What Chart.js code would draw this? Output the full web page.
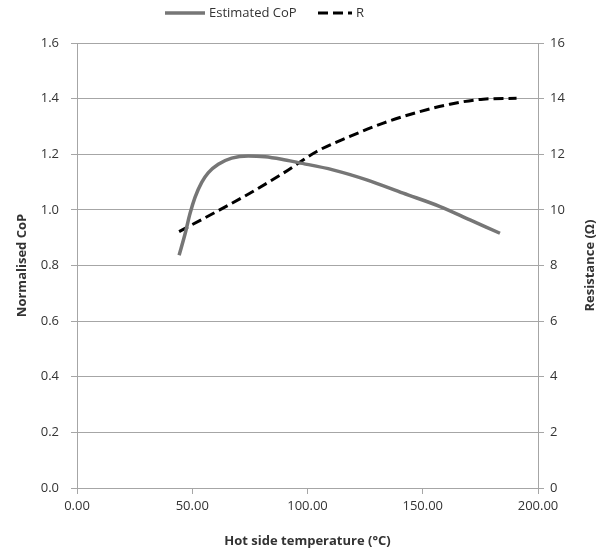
<!DOCTYPE html>
<html>
<head>
<meta charset="utf-8">
<script src="https://cdn.jsdelivr.net/npm/chart.js@4"></script>
<style>
  html, body { margin: 0; padding: 0; background: #fff; }
  #wrap { width: 611px; height: 553px; }
</style>
</head>
<body>
<div id="wrap"><canvas id="chart" width="611" height="553"></canvas></div>
<script>
// Estimated CoP (left axis) vs hot side temperature
const copTemps = [44.3, 46.9, 49, 51.2, 54.1, 57, 61.3, 67.1, 74.3, 81.6, 88.8, 96, 111, 125.7, 141.5, 157.5, 170.5, 183.5];
const copValues = [0.837, 0.914, 0.986, 1.045, 1.099, 1.134, 1.164, 1.186, 1.194, 1.191, 1.182, 1.17, 1.144, 1.108, 1.06, 1.012, 0.964, 0.916];
// Resistance R (right axis)
const rTemps = [44.3, 60.6, 75, 89.5, 104, 118.4, 132.9, 147.3, 161.8, 176.2, 190.7];
const rValues = [9.22, 9.94, 10.6, 11.32, 12.1, 12.64, 13.12, 13.5, 13.8, 13.98, 14.01];

const xTicks = [0, 50, 100, 150, 200];

const tickFont = { family: 'Open Sans', size: 13 };
const titleFont = { family: 'Open Sans', size: 13, weight: 'bold' };
const textColor = '#333';

const pairs = (xs, ys) => xs.map((x, i) => ({ x: x, y: ys[i] }));

// legend and right-hand title (reads bottom-to-top) drawn by hand
const extras = {
  id: 'extras',
  afterDraw(chart) {
    const ctx = chart.ctx;
    const s = chart.scales.y1;
    ctx.save();
    ctx.font = '13px "Open Sans"';
    ctx.fillStyle = textColor;
    ctx.textBaseline = 'middle';
    ctx.textAlign = 'left';
    const ly = 13;
    chart.data.datasets.forEach((ds, i) => {
      const x0 = i === 0 ? 165 : 318;
      const x1 = i === 0 ? 205 : 352;
      ctx.beginPath();
      ctx.setLineDash(ds.borderDash || []);
      ctx.lineWidth = ds.borderWidth;
      ctx.strokeStyle = ds.borderColor;
      ctx.moveTo(x0, ly);
      ctx.lineTo(x1, ly);
      ctx.stroke();
      ctx.setLineDash([]);
      ctx.fillText(ds.label, x1 + 4, ly);
    });
    ctx.translate(s.right - 21, (chart.chartArea.top + chart.chartArea.bottom) / 2);
    ctx.rotate(-Math.PI / 2);
    ctx.font = 'bold 13px "Open Sans"';
    ctx.textAlign = 'center';
    ctx.fillText('Resistance (Ω)', 0, 0);
    ctx.restore();
  }
};

new Chart(document.getElementById('chart'), {
  type: 'line',
  data: {
    datasets: [
      {
        label: 'Estimated CoP',
        data: pairs(copTemps, copValues),
        yAxisID: 'y',
        borderColor: '#767676',
        backgroundColor: '#767676',
        borderWidth: 3.5,
        pointRadius: 0,
        cubicInterpolationMode: 'monotone'
      },
      {
        label: 'R',
        data: pairs(rTemps, rValues),
        yAxisID: 'y1',
        borderColor: '#000',
        backgroundColor: '#000',
        borderWidth: 3,
        borderDash: [10, 5],
        pointRadius: 0,
        cubicInterpolationMode: 'monotone'
      }
    ]
  },
  options: {
    responsive: false,
    animation: false,
    layout: { padding: { top: 43, left: 0, right: 0, bottom: 0 } },
    plugins: {
      legend: { display: false },
      tooltip: { enabled: false }
    },
    scales: {
      x: {
        type: 'linear',
        min: 0,
        max: 200,
        afterBuildTicks: (s) => { s.ticks = xTicks.map(v => ({ value: v })); },
        afterFit: (s) => { s.height = 65; },
        ticks: {
          color: textColor,
          font: tickFont,
          padding: 4,
          callback: (v) => v.toFixed(2)
        },
        grid: { drawOnChartArea: false, drawTicks: true, tickLength: 6, color: '#a6a6a6' },
        border: { color: '#a6a6a6', width: 1 },
        title: { display: true, text: 'Hot side temperature (°C)', color: textColor, font: titleFont, padding: { top: 4 } }
      },
      y: {
        position: 'left',
        min: 0,
        max: 1.6,
        afterFit: (s) => { s.width = 77; },
        ticks: {
          stepSize: 0.2,
          color: textColor,
          font: tickFont,
          padding: 12,
          callback: (v) => v.toFixed(1)
        },
        grid: { color: '#a6a6a6', tickLength: 6 },
        border: { color: '#a6a6a6', width: 1 },
        title: { display: true, text: 'Normalised CoP', color: textColor, font: titleFont, padding: { top: 14, bottom: 0 } }
      },
      y1: {
        position: 'right',
        min: 0,
        max: 16,
        afterFit: (s) => { s.width = 73; },
        ticks: {
          stepSize: 2,
          color: textColor,
          font: tickFont,
          padding: 6
        },
        grid: { drawOnChartArea: false, color: '#a6a6a6', tickLength: 6 },
        border: { color: '#a6a6a6', width: 1 }
      }
    }
  },
  plugins: [extras]
});
</script>
</body>
</html>
